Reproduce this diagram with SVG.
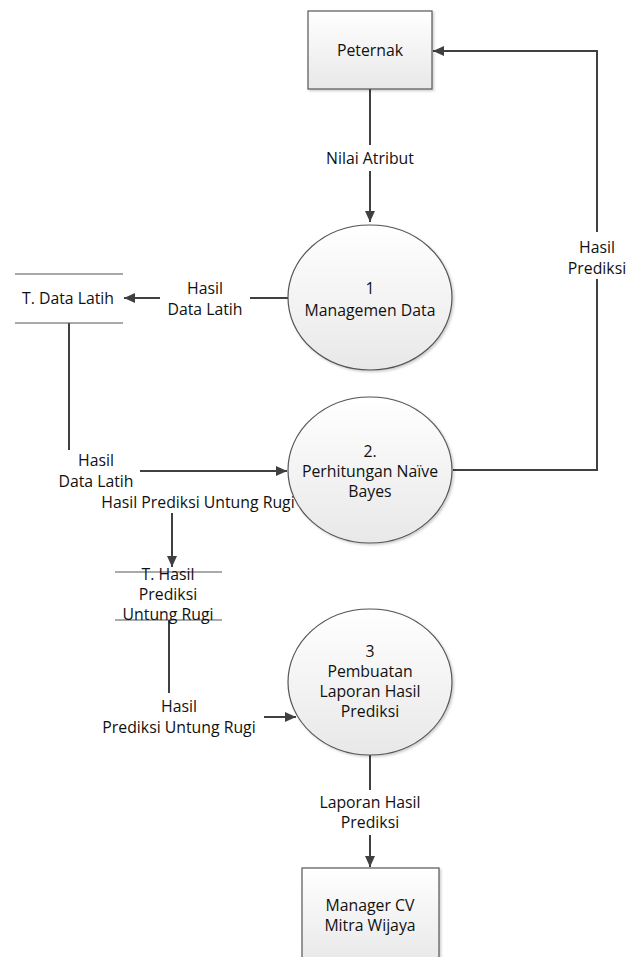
<svg xmlns="http://www.w3.org/2000/svg" width="628" height="957" viewBox="0 0 628 957">
<defs>
<linearGradient id="g" x1="0" y1="0" x2="0" y2="1">
<stop offset="0" stop-color="#ffffff"/>
<stop offset="1" stop-color="#e8e8e8"/>
</linearGradient>
<filter id="sh" x="-10%" y="-10%" width="130%" height="130%">
<feDropShadow dx="1.5" dy="1.5" stdDeviation="1" flood-color="#000" flood-opacity="0.2"/>
</filter>
<marker id="ah" markerWidth="12" markerHeight="12" refX="11" refY="6" orient="auto" markerUnits="userSpaceOnUse">
<path d="M0,1 L11,6 L0,11 Z" fill="#404040"/>
</marker>
</defs>
<style>
text{font-family:"Open Sans","Noto Sans",sans-serif;font-size:15.8px;fill:#111;text-anchor:middle}
.n{fill:url(#g);stroke:#555;stroke-width:1.2;filter:url(#sh)}
.c{fill:none;stroke:#404040;stroke-width:2}
.s{stroke:#555;stroke-width:1.2}
.bg{fill:#fff}
</style>
<rect width="628" height="957" fill="#fff"/>
<g id="connectors">
<path class="c" d="M370,89 V222" marker-end="url(#ah)"/>
<path class="c" d="M453,470 H597 V51 H433" marker-end="url(#ah)"/>
<path class="c" d="M288,298 H124" marker-end="url(#ah)"/>
<path class="c" d="M69,323 V471 H287" marker-end="url(#ah)"/>
<path class="c" d="M297,502 H172 V567" marker-end="url(#ah)"/>
<path class="c" d="M169,620 V717 H296" marker-end="url(#ah)"/>
<path class="c" d="M370,755 V867" marker-end="url(#ah)"/>
<rect class="bg" x="322" y="145" width="96" height="26"/>
<text x="370" y="164">Nilai Atribut</text>
<rect class="bg" x="562" y="232" width="66" height="47"/>
<text x="597" y="253">Hasil</text>
<text x="597" y="274">Prediksi</text>
<rect class="bg" x="160" y="275" width="90" height="45"/>
<text x="205" y="294">Hasil</text>
<text x="205" y="315">Data Latih</text>
<rect class="bg" x="52" y="450" width="88" height="45"/>
<text x="96" y="466">Hasil</text>
<text x="96" y="487">Data Latih</text>
<rect class="bg" x="94" y="492" width="208" height="21"/>
<text x="198" y="508">Hasil Prediksi Untung Rugi</text>
<rect class="bg" x="94" y="693" width="170" height="45"/>
<text x="179" y="712">Hasil</text>
<text x="179" y="733">Prediksi Untung Rugi</text>
<rect class="bg" x="308" y="790" width="124" height="45"/>
<text x="370" y="808">Laporan Hasil</text>
<text x="370" y="828">Prediksi</text>
</g>
<g id="peternak">
<rect class="n" x="308" y="11" width="124" height="78"/>
<text x="370" y="56">Peternak</text>
</g>
<g id="p1">
<ellipse class="n" cx="370" cy="297.5" rx="82" ry="72.5"/>
<text x="370" y="294">1</text>
<text x="370" y="316">Managemen Data</text>
</g>
<g id="p2">
<ellipse class="n" cx="370" cy="470" rx="82" ry="73"/>
<text x="370" y="457">2.</text>
<text x="370" y="477">Perhitungan Naïve</text>
<text x="370" y="497">Bayes</text>
</g>
<g id="p3">
<ellipse class="n" cx="370" cy="682" rx="82" ry="73"/>
<text x="370" y="657">3</text>
<text x="370" y="677">Pembuatan</text>
<text x="370" y="697">Laporan Hasil</text>
<text x="370" y="717">Prediksi</text>
</g>
<g id="store1">
<line class="s" x1="15" y1="274" x2="123" y2="274"/>
<line class="s" x1="15" y1="323" x2="123" y2="323"/>
<text x="68" y="304">T. Data Latih</text>
</g>
<g id="store2">
<line class="s" x1="115" y1="572" x2="222" y2="572"/>
<line class="s" x1="115" y1="620" x2="222" y2="620"/>
<text x="168" y="580">T. Hasil</text>
<text x="168" y="600">Prediksi</text>
<text x="168" y="620">Untung Rugi</text>
</g>
<g id="manager">
<rect class="n" x="302" y="868" width="137" height="95"/>
<text x="370" y="911">Manager CV</text>
<text x="370" y="931">Mitra Wijaya</text>
</g>
</svg>
